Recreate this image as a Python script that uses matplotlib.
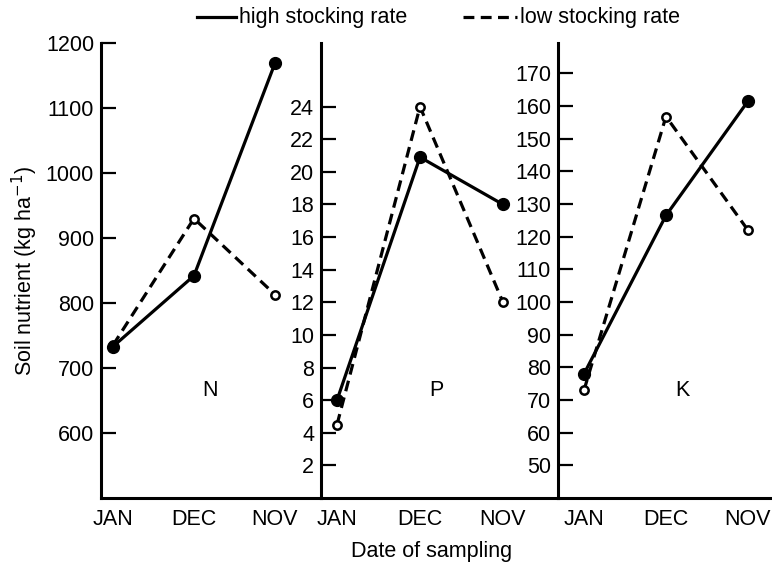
import matplotlib.pyplot as plt
from matplotlib.lines import Line2D
from matplotlib.transforms import blended_transform_factory

plt.rcParams['font.family'] = ['Liberation Sans', 'DejaVu Sans']

months = ["JAN", "DEC", "NOV"]
nutrients = ["N", "P", "K"]

# soil nutrient at each sampling date, high vs low stocking rate
n_high = [733, 842, 1169]
n_low = [735, 930, 813]
p_high = [6.0, 20.9, 18.0]
p_low = [4.5, 24.0, 12.0]
k_high = [78, 126.5, 161.5]
k_low = [73, 156.8, 122]

n_ticks = [600, 700, 800, 900, 1000, 1100, 1200]
p_ticks = [2, 4, 6, 8, 10, 12, 14, 16, 18, 20, 22, 24]
k_ticks = [50, 60, 70, 80, 90, 100, 110, 120, 130, 140, 150, 160, 170]

FS = 15.5
LW = 2.3
DASH = (3.4, 2.0)

fig = plt.figure(figsize=(7.72, 5.69), dpi=100)

# panels sit edge to edge, each one starting where the previous ends
panels = [
    # left, width, xlim, ylim, ticks, high, low
    (0.1308, 0.2850, (-0.148, 2.568), (500, 1200), n_ticks, n_high, n_low),
    (0.4158, 0.3070, (-0.193, 2.663), (0, 27.9), p_ticks, p_high, p_low),
    (0.7228, 0.2772, (-0.317, 2.293), (40, 179.3), k_ticks, k_high, k_low),
]

bottom, height = 0.1248, 0.7996
x = [0, 1, 2]
axes = []
for (left, width, xlim, ylim, ticks, high, low), name in zip(panels, nutrients):
    ax = fig.add_axes([left, bottom, width, height])
    ax.set_facecolor('none')
    ax.plot(x, low, color='black', lw=LW, dashes=DASH,
            marker='o', ms=6, mfc='white', mec='black', mew=1.8, zorder=3)
    ax.plot(x, high, color='black', lw=LW, marker='o', ms=8.5, zorder=4)
    ax.set_xlim(*xlim)
    ax.set_ylim(*ylim)
    ax.set_yticks(ticks)
    ax.set_xticks(x)
    ax.set_xticklabels(months)
    for side in ['top', 'right']:
        ax.spines[side].set_visible(False)
    for side in ['left', 'bottom']:
        ax.spines[side].set_linewidth(2.2)
    ax.tick_params(axis='y', direction='in', length=11, width=1.6,
                   labelsize=FS, pad=5)
    ax.tick_params(axis='x', length=0, labelsize=FS, pad=8)
    trans = blended_transform_factory(ax.transData, ax.transAxes)
    ax.text(1.2, 0.237, name, transform=trans, fontsize=FS,
            ha='center', va='center')
    axes.append(ax)

axes[0].set_ylabel("Soil nutrient (kg ha$^{-1}$)", fontsize=FS, labelpad=4)

fig.text(432 / 772, 1 - 551 / 569, "Date of sampling", fontsize=FS,
         ha='center', va='center')

# legend across the top
ly = 1 - 17 / 569
fig.add_artist(Line2D([197 / 772, 236 / 772], [ly, ly], color='black', lw=LW))
fig.text(239 / 772, ly, "high stocking rate", fontsize=FS, va='center')
fig.add_artist(Line2D([463 / 772, 517 / 772], [ly, ly], color='black', lw=LW,
                      dashes=DASH))
fig.text(520 / 772, ly, "low stocking rate", fontsize=FS, va='center')

fig.savefig("out.png", dpi=100)
